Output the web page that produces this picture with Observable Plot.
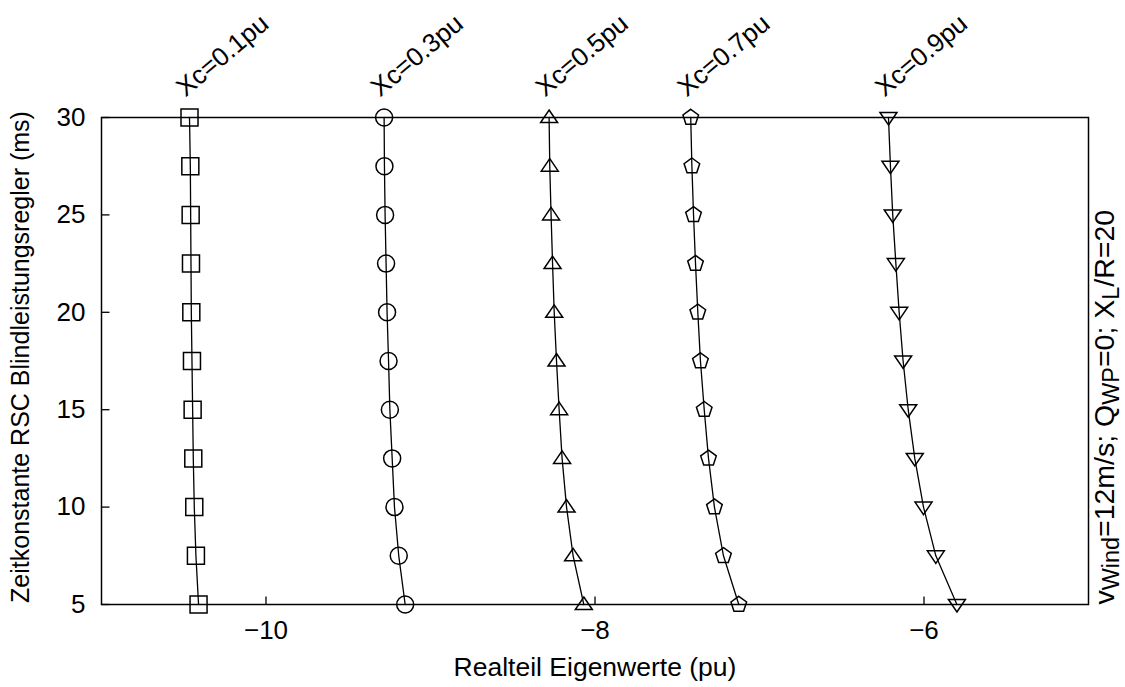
<!DOCTYPE html>
<html>
<head>
<meta charset="utf-8">
<script src="https://cdn.jsdelivr.net/npm/d3@7"></script>
<script src="https://cdn.jsdelivr.net/npm/@observablehq/plot@0.6"></script>
<style>
  html, body { margin: 0; padding: 0; background: #fff; }
  #chart { width: 1125px; height: 687px; }
</style>
</head>
<body>
<div id="chart"></div>
<script>
// ---- data ----
const tau = [30, 27.5, 25, 22.5, 20, 17.5, 15, 12.5, 10, 7.5, 5];
const xc01 = [-10.465, -10.46, -10.458, -10.456, -10.454, -10.45, -10.446, -10.442, -10.436, -10.426, -10.41];
const xc03 = [-9.282, -9.28, -9.276, -9.27, -9.264, -9.255, -9.247, -9.233, -9.219, -9.193, -9.154];
const xc05 = [-8.279, -8.275, -8.267, -8.258, -8.248, -8.234, -8.218, -8.2, -8.173, -8.133, -8.068];
const xc07 = [-7.418, -7.411, -7.401, -7.389, -7.375, -7.359, -7.336, -7.31, -7.274, -7.219, -7.126];
const xc09 = [-6.216, -6.204, -6.19, -6.171, -6.151, -6.127, -6.096, -6.056, -6.003, -5.928, -5.8];
const seriesLabels = ["Xc=0.1pu", "Xc=0.3pu", "Xc=0.5pu", "Xc=0.7pu", "Xc=0.9pu"];
const xTicks = [-10, -8, -6];
const yTicks = [5, 10, 15, 20, 25, 30];
const xLabel = "Realteil Eigenwerte (pu)";
const yLabel = "Zeitkonstante RSC Blindleistungsregler (ms)";
const sideNote = "vWind=12m/s; QWP=0; XL/R=20";

// ---- custom marker symbols ----
const R = 8.5;
const symSquare = {draw(c) { c.moveTo(-R, -R); c.lineTo(R, -R); c.lineTo(R, R); c.lineTo(-R, R); c.closePath(); }};
const symCircle = {draw(c) { c.moveTo(R, 0); c.arc(0, 0, R, 0, 2 * Math.PI); c.closePath(); }};
const symTriUp = {draw(c) { c.moveTo(0, -7.5); c.lineTo(8.5, 5); c.lineTo(-8.5, 5); c.closePath(); }};
const symPent = {draw(c) {
  const r = 8.2;
  for (let i = 0; i < 5; i++) {
    const a = -Math.PI / 2 + i * 2 * Math.PI / 5;
    const px = r * Math.cos(a), py = r * Math.sin(a);
    if (i === 0) c.moveTo(px, py); else c.lineTo(px, py);
  }
  c.closePath();
}};
const symTriDown = {draw(c) { c.moveTo(0, 7.5); c.lineTo(8.5, -5); c.lineTo(-8.5, -5); c.closePath(); }};
const tickUp = {draw(c) { c.moveTo(0, 0); c.lineTo(0, -8); }};
const tickRight = {draw(c) { c.moveTo(0, 0); c.lineTo(8, 0); }};

const seriesX = [xc01, xc03, xc05, xc07, xc09];
const symbols = [symSquare, symCircle, symTriUp, symPent, symTriDown];
const series = seriesX.map((xs, i) => ({
  label: seriesLabels[i],
  symbol: symbols[i],
  points: xs.map((x, j) => ({x, y: tau[j]}))
}));
const labelData = series.map(s => ({label: s.label, x: s.points[0].x, y: s.points[0].y}));

const FONT = "'Liberation Sans', Arial, Helvetica, sans-serif";
const fmt = d => (d < 0 ? "\u2212" : "") + Math.abs(d);

const marks = [];
for (const s of series) {
  marks.push(Plot.line(s.points, {x: "x", y: "y", stroke: "black", strokeWidth: 1.3}));
  marks.push(Plot.dot(s.points, {x: "x", y: "y", symbol: s.symbol, stroke: "black", strokeWidth: 1.5, fill: "none", r: 5}));
}
marks.push(
  Plot.frame({stroke: "black", strokeWidth: 1.5}),
  Plot.dot(xTicks, {x: d => d, y: 5, symbol: tickUp, stroke: "black", strokeWidth: 1.3, r: 5}),
  Plot.dot(yTicks, {x: -11, y: d => d, symbol: tickRight, stroke: "black", strokeWidth: 1.3, r: 5}),
  Plot.axisX(xTicks, {tickSize: 0, tickPadding: 16, fontSize: 26, label: null, tickFormat: fmt}),
  Plot.axisY(yTicks, {tickSize: 0, tickPadding: 16, fontSize: 26, label: null, tickFormat: fmt}),
  Plot.text([xLabel], {frameAnchor: "bottom", dy: 63, text: d => d, fontSize: 26.5, lineAnchor: "middle"}),
  Plot.text([yLabel], {frameAnchor: "left", dx: -81, dy: -4, rotate: -90, text: d => d, fontSize: 25, lineAnchor: "middle", textAnchor: "middle"}),
  Plot.text(labelData, {x: "x", y: "y", text: "label", rotate: -40, textAnchor: "start", lineAnchor: "bottom", dx: -4, dy: -20, fontSize: 26}),
  Plot.text([sideNote], {frameAnchor: "bottom-right", text: d => d, rotate: -90, textAnchor: "start", lineAnchor: "bottom", dx: 25, dy: 0, fontSize: 28.5})
);

const chart = Plot.plot({
  width: 1125,
  height: 687,
  marginLeft: 101,
  marginRight: 37,
  marginTop: 117,
  marginBottom: 83,
  x: {domain: [-11, -5]},
  y: {domain: [5, 30]},
  style: {fontFamily: FONT, color: "black", background: "white"},
  marks
});

// rich text (subscripts) for the side note
d3.select(chart).selectAll("text").each(function() {
  if (this.textContent === sideNote) {
    const t = d3.select(this);
    t.text(null);
    const parts = [["v", false], ["Wind", true], ["=12m/s; Q", false], ["WP", true], ["=0; X", false], ["L", true], ["/R=20", false]];
    for (const [str, sub] of parts) {
      const ts = t.append("tspan").text(str);
      if (sub) ts.attr("baseline-shift", "-20%").attr("font-size", "0.82em");
    }
  }
});

document.getElementById("chart").appendChild(chart);
</script>
</body>
</html>
